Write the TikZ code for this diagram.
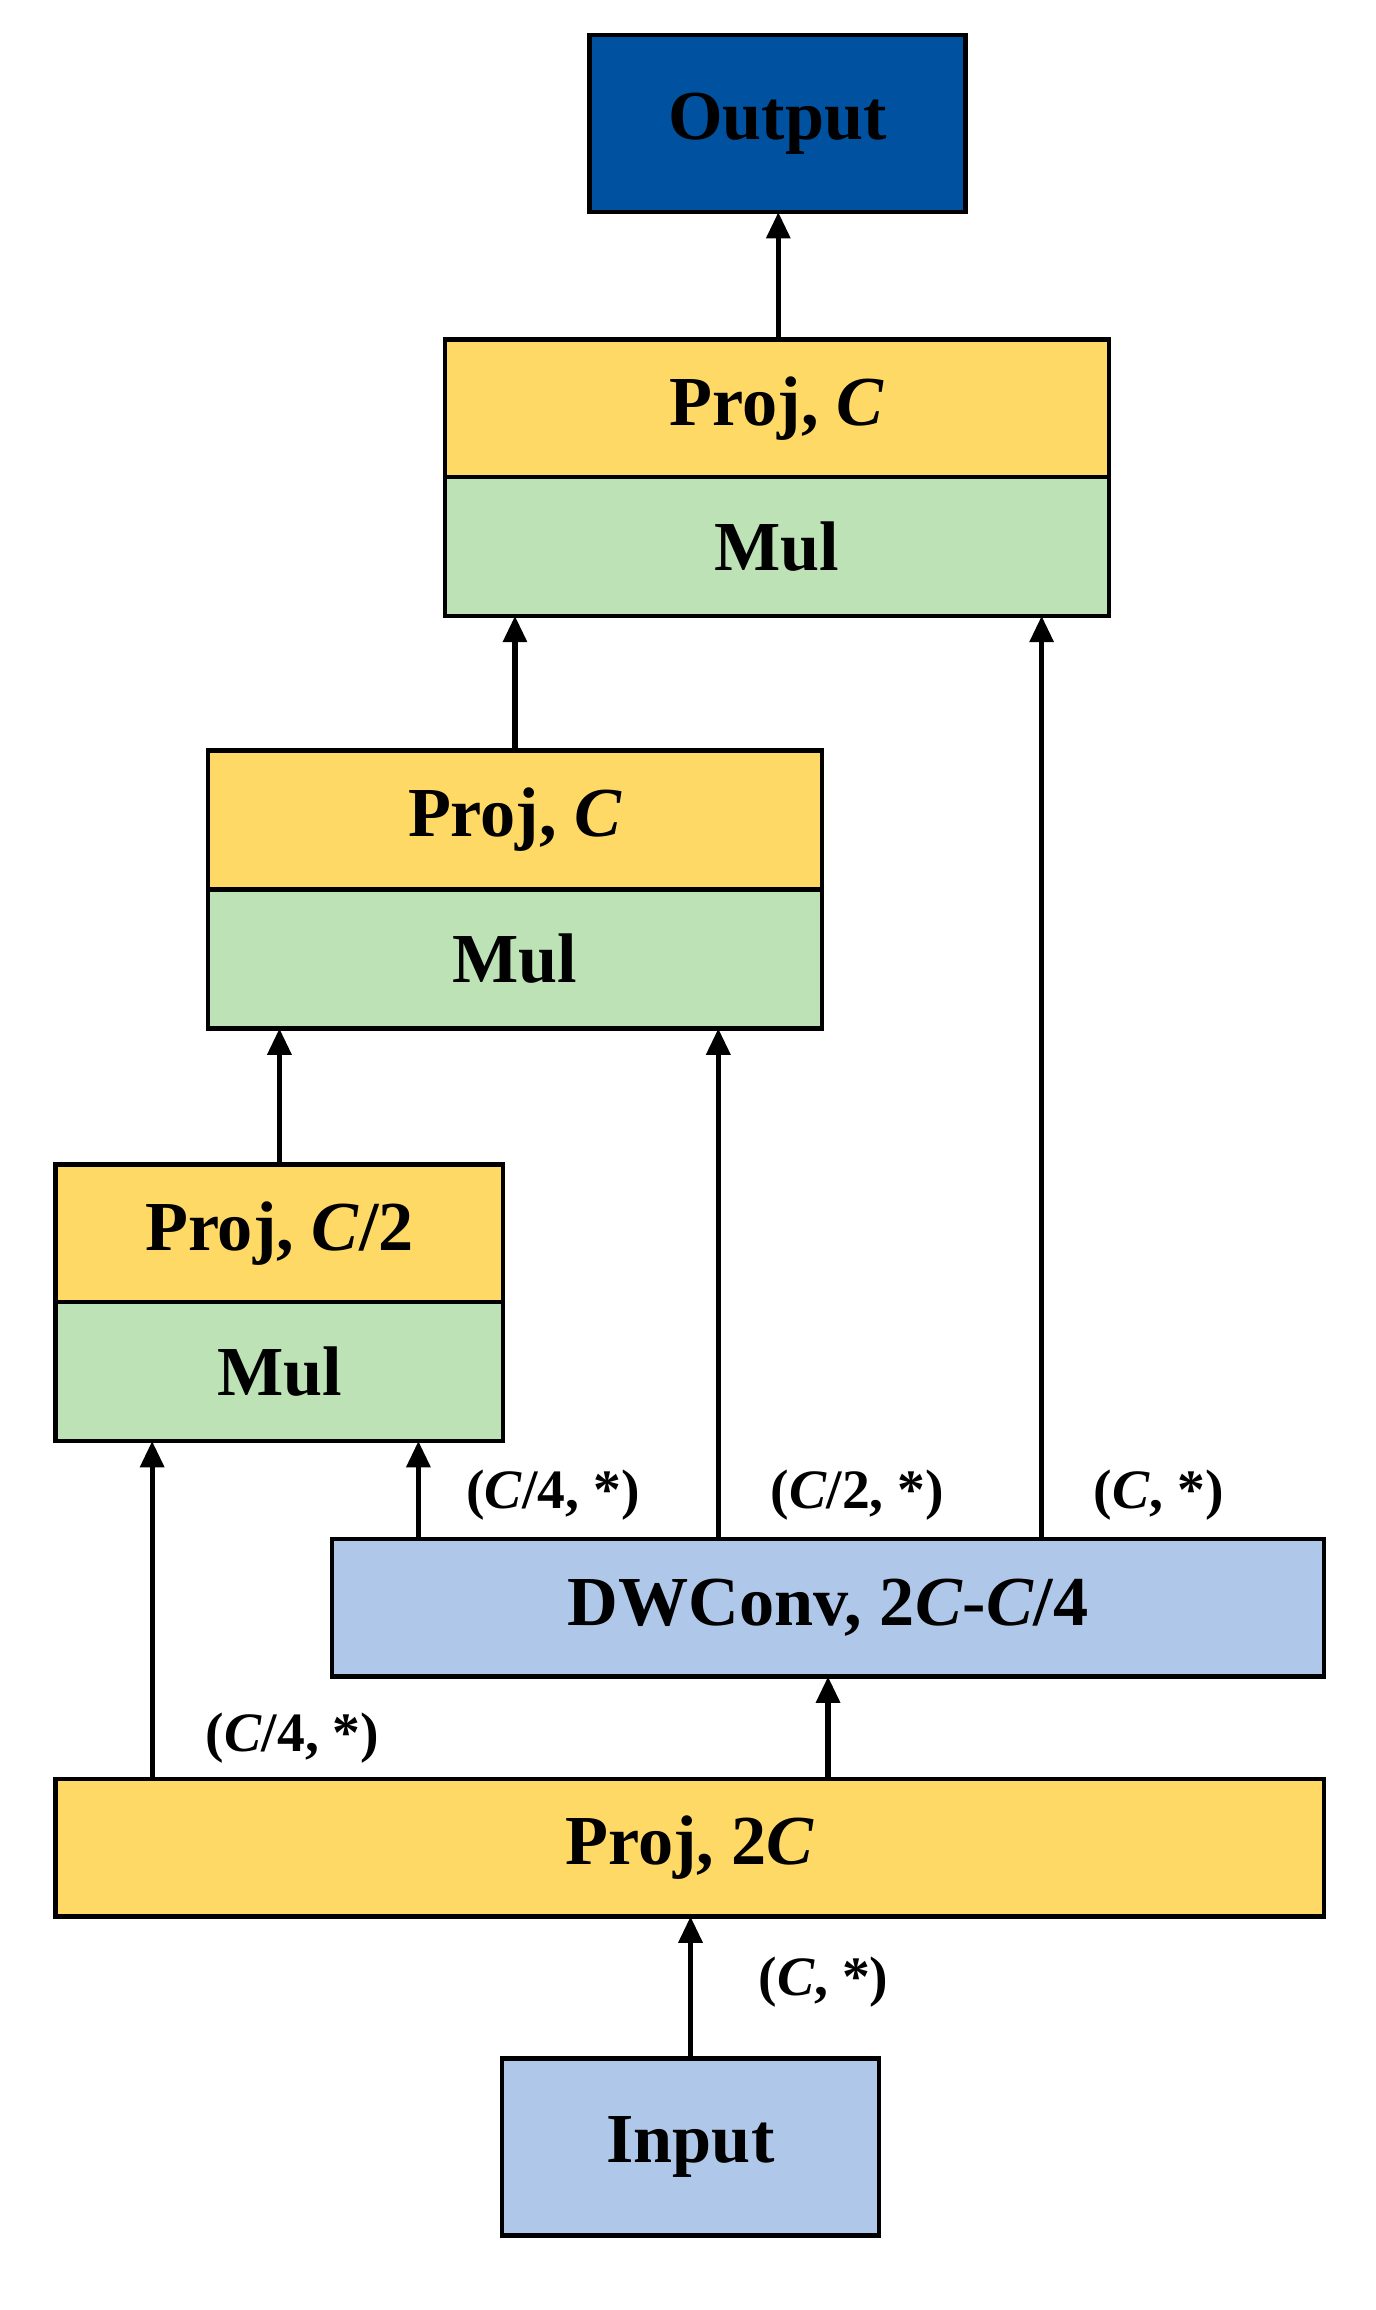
\documentclass[tikz,border=0pt]{standalone}
\usepackage{fontspec}
\setmainfont{Liberation Serif}
\usetikzlibrary{arrows.meta}
\definecolor{yel}{HTML}{FFD966}
\definecolor{grn}{HTML}{BDE2B5}
\definecolor{lbl}{HTML}{AFC8E9}
\definecolor{dbl}{HTML}{0052A0}
\begin{document}
\begin{tikzpicture}[x=0.5pt,y=-0.5pt,
 box/.style={draw=black,line width=1.5pt,font=\fontsize{24}{28}\selectfont\bfseries,inner sep=0pt},
 arr/.style={line width=1.8pt,-{Triangle[length=9pt,width=8pt]}},
 lab/.style={font=\fontsize{19}{22}\selectfont\bfseries,inner sep=0pt}]
\useasboundingbox (0,0) rectangle (940,1579);
\def\bx#1#2#3#4#5#6#7{\path[box,fill=#6] (#2,#3) rectangle (#4,#5); \node[font=\fontsize{24}{28}\selectfont\bfseries] (#1) at ({(#2+#4)/2},{(#3+#5)/2}) {#7};}
\path[box,fill=dbl] (403,24) rectangle (660,145) node[midway] (out) {Output};
\path[box,fill=yel] (304,232) rectangle (758,326) node[midway] (p1) {Proj, \textit{C}};
\path[box,fill=grn] (304,326) rectangle (758,421) node[midway] (m1) {Mul};
\path[box,fill=yel] (142,513) rectangle (562,608) node[midway] (p2) {Proj, \textit{C}};
\path[box,fill=grn] (142,608) rectangle (562,703) node[midway] (m2) {Mul};
\path[box,fill=yel] (38,796) rectangle (344,890) node[midway] (p3) {Proj, \textit{C}/2};
\path[box,fill=grn] (38,890) rectangle (344,985) node[midway] (m3) {Mul};
\path[box,fill=lbl] (227,1052) rectangle (905,1146) node[midway] (dw) {DWConv, 2\textit{C}-\textit{C}/4};
\path[box,fill=yel] (38,1216) rectangle (905,1310) node[midway] (pc) {Proj, 2\textit{C}};
\path[box,fill=lbl] (343,1407) rectangle (601,1528) node[midway] (in) {Input};
\coordinate (a1) at (472,1407); \coordinate (a2) at (472,1310);
\coordinate (b1) at (566,1216); \coordinate (b2) at (566,1146);
\coordinate (c1) at (104,1216); \coordinate (c2) at (104,985);
\coordinate (d1) at (286,1052); \coordinate (d2) at (286,985);
\coordinate (e1) at (491,1052); \coordinate (e2) at (491,703);
\coordinate (f1) at (712,1052); \coordinate (f2) at (712,421);
\coordinate (g1) at (191,796); \coordinate (g2) at (191,703);
\coordinate (h1) at (352,513); \coordinate (h2) at (352,421);
\coordinate (i1) at (532,232); \coordinate (i2) at (532,145);
\foreach \p in {a,b,c,d,e,f,g,h,i} \draw[arr] (\p1) -- (\p2);
\node[lab] (l1) at (563,1355) {(\textit{C}, *)};
\node[lab] (l2) at (200,1188) {(\textit{C}/4, *)};
\node[lab] (l3) at (378,1022) {(\textit{C}/4, *)};
\node[lab] (l4) at (586,1022) {(\textit{C}/2, *)};
\node[lab] (l5) at (792,1022) {(\textit{C}, *)};
\end{tikzpicture}
\end{document}
